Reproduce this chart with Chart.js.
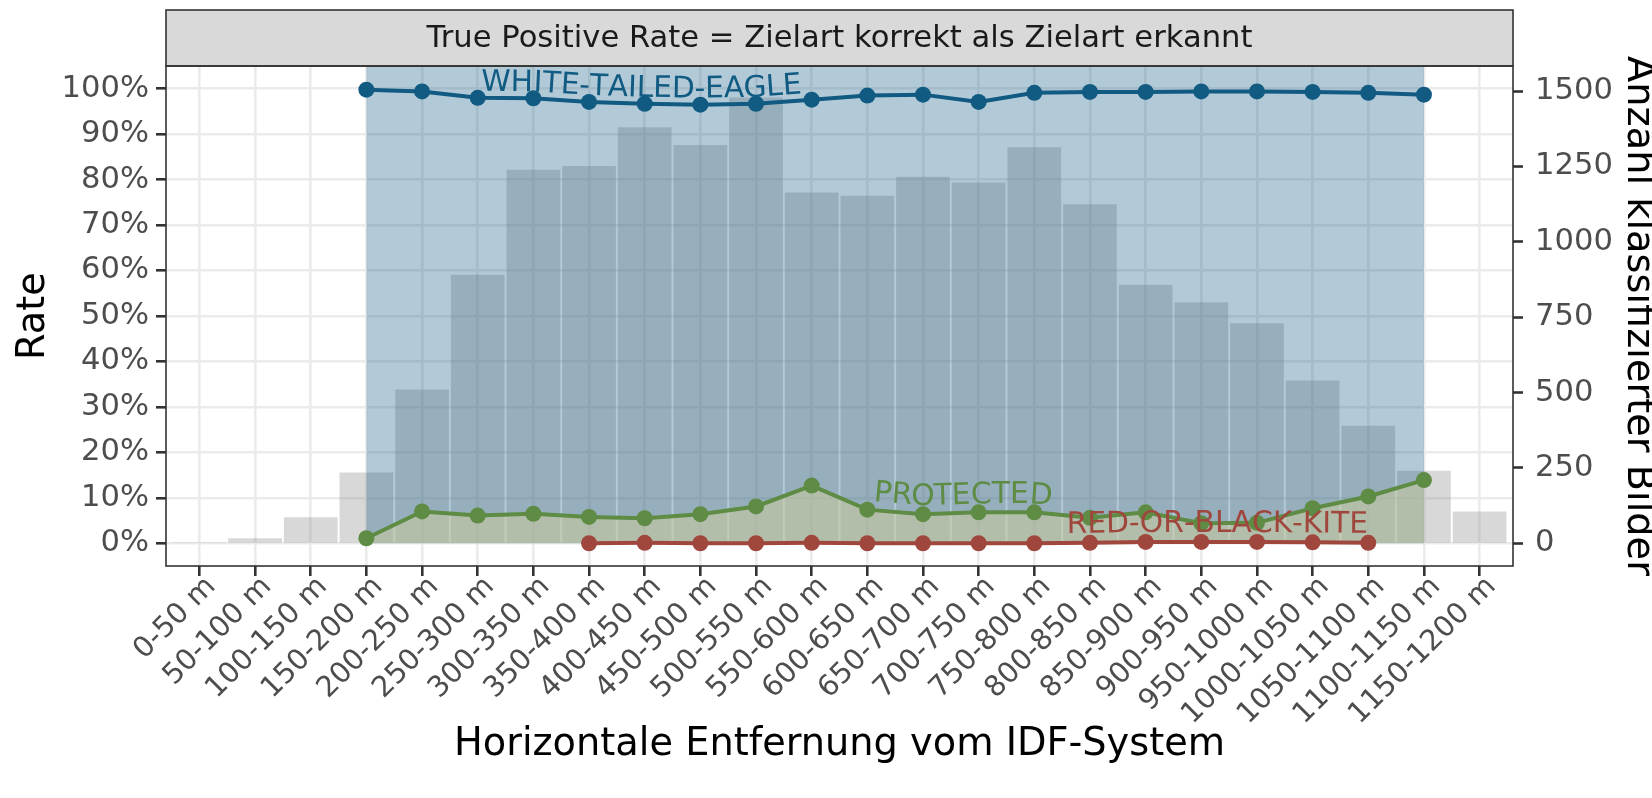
<!DOCTYPE html>
<html>
<head>
<meta charset="utf-8">
<script src="https://cdn.jsdelivr.net/npm/chart.js@4.4.1/dist/chart.umd.min.js"></script>
<style>
  html, body { margin: 0; padding: 0; background: #ffffff; }
  #wrap { width: 1652px; height: 798px; }
</style>
</head>
<body>
<div id="wrap"><canvas id="tprChart" width="1652" height="798"></canvas></div>
<script>
// distance bins on the x axis
var distanceBins = [
    '0-50 m', '50-100 m', '100-150 m', '150-200 m', '200-250 m', '250-300 m',
    '300-350 m', '350-400 m', '400-450 m', '450-500 m', '500-550 m', '550-600 m',
    '600-650 m', '650-700 m', '700-750 m', '750-800 m', '800-850 m', '850-900 m',
    '900-950 m', '950-1000 m', '1000-1050 m', '1050-1100 m', '1100-1150 m', '1150-1200 m'
];

// number of classified images per bin (right axis)
var imageCounts = [3, 17, 86, 235, 510, 891, 1239, 1252, 1380, 1321, 1479, 1164,
                   1153, 1216, 1197, 1314, 1125, 858, 800, 730, 540, 390, 241, 105];

// true positive rates in percent (null = no data in that bin)
var eagleRate = [null, null, null, 99.8, 99.4, 98.0, 97.9, 97.1, 96.7, 96.5, 96.7, 97.6,
                 98.5, 98.7, 97.1, 99.1, 99.3, 99.3, 99.4, 99.4, 99.3, 99.1, 98.7, null];
var protectedRate = [null, null, null, 1.1, 7.0, 6.1, 6.5, 5.8, 5.5, 6.4, 8.1, 12.7,
                     7.4, 6.4, 6.8, 6.8, 5.6, 6.8, 4.4, 4.5, 7.7, 10.3, 13.9, null];
var kiteRate = [null, null, null, null, null, null, null, 0.0, 0.1, 0.0, 0.0, 0.1,
                0.0, 0.0, 0.0, 0.0, 0.1, 0.3, 0.3, 0.3, 0.2, 0.1, null, null];

// axis ticks
var rateTicks = [0, 5, 10, 15, 20, 25, 30, 35, 40, 45, 50, 55, 60, 65, 70, 75, 80, 85, 90, 95, 100];
var countTicks = [0, 250, 500, 750, 1000, 1250, 1500];
var rateMin = -5, rateMax = 105;
var countsPerPercent = 15.08; // secondary axis: 100 % <-> 1508 images

var eagleColor = '#115a82';
var protectedColor = '#5e8c45';
var kiteColor = '#a0473d';

var lineLabels = [
    { dataset: 4, text: 'WHITE-TAILED-EAGLE', at: 7.9, lift: 7, color: eagleColor },
    { dataset: 2, text: 'PROTECTED', at: 13.7, lift: 9, color: protectedColor },
    { dataset: 3, text: 'RED-OR-BLACK-KITE', at: 18.25, lift: 10, color: kiteColor }
];

var FONT = '"DejaVu Sans", "Liberation Sans", sans-serif';
var TICK_SIZE = 30.6;
var XTICK_SIZE = 28.8;
var TITLE_SIZE = 38.3;

function toPoints(values) {
    return values.map((v, i) => ({ x: i, y: v })).filter(p => p.y !== null);
}

// range where the eagle was evaluated -> shaded background
var eagleIdx = eagleRate.map((v, i) => v === null ? null : i).filter(v => v !== null);
var eagleSpan = [
    { x: eagleIdx[0], y: rateMax },
    { x: eagleIdx[eagleIdx.length - 1], y: rateMax }
];

function yOnPath(pts, x) {
    if (x <= pts[0].x) return pts[0].y;
    for (let i = 1; i < pts.length; i++) {
        if (x <= pts[i].x) {
            const t = (x - pts[i - 1].x) / (pts[i].x - pts[i - 1].x);
            return pts[i - 1].y + t * (pts[i].y - pts[i - 1].y);
        }
    }
    return pts[pts.length - 1].y;
}

// text that follows its line, like geomtextpath
const pathLabels = {
    id: 'pathLabels',
    afterDatasetsDraw(chart) {
        const ctx = chart.ctx;
        lineLabels.forEach(lab => {
            const pts = chart.getDatasetMeta(lab.dataset).data.map(p => ({ x: p.x, y: p.y }));
            ctx.save();
            ctx.font = '29.7px ' + FONT;
            ctx.fillStyle = lab.color;
            ctx.textAlign = 'center';
            ctx.textBaseline = 'alphabetic';
            const total = ctx.measureText(lab.text).width;
            let cur = chart.scales.x.getPixelForValue(lab.at) - total / 2;
            for (const ch of lab.text) {
                const w = ctx.measureText(ch).width;
                const cx = cur + w / 2;
                const y = yOnPath(pts, cx);
                const a = Math.atan2(yOnPath(pts, cx + 15) - yOnPath(pts, cx - 15), 30);
                ctx.save();
                ctx.translate(cx, y);
                ctx.rotate(a);
                ctx.fillText(ch, 0, -lab.lift);
                ctx.restore();
                cur += w;
            }
            ctx.restore();
        });
    }
};

// facet strip on top + panel border
const panelFrame = {
    id: 'panelFrame',
    afterDraw(chart) {
        const ctx = chart.ctx;
        const a = chart.chartArea;
        ctx.save();
        ctx.fillStyle = '#d9d9d9';
        ctx.fillRect(a.left, 10, a.right - a.left, a.top - 10);
        ctx.strokeStyle = '#333333';
        ctx.lineWidth = 1.6;
        ctx.strokeRect(a.left, 10, a.right - a.left, a.top - 10);
        ctx.strokeRect(a.left, a.top, a.right - a.left, a.bottom - a.top);
        ctx.fillStyle = '#1a1a1a';
        ctx.font = TICK_SIZE + 'px ' + FONT;
        ctx.textAlign = 'center';
        ctx.textBaseline = 'middle';
        ctx.fillText('True Positive Rate = Zielart korrekt als Zielart erkannt', (a.left + a.right) / 2, (10 + a.top) / 2 + 1);
        ctx.restore();
    }
};

var ctx = document.getElementById('tprChart').getContext('2d');
new Chart(ctx, {
    type: 'bar',
    data: {
        datasets: [
            {
                type: 'bar',
                label: 'Anzahl klassifizierter Bilder',
                data: imageCounts.map((v, i) => ({ x: i, y: v })),
                yAxisID: 'y2',
                backgroundColor: 'rgba(127, 127, 127, 0.3)',
                borderWidth: 0,
                categoryPercentage: 1,
                barPercentage: 0.965,
                order: 6
            },
            {
                type: 'line',
                label: 'eagle range',
                data: eagleSpan,
                yAxisID: 'y',
                borderWidth: 0,
                pointRadius: 0,
                fill: 'origin',
                backgroundColor: 'rgba(17, 90, 130, 0.32)',
                order: 5
            },
            {
                type: 'line',
                label: 'PROTECTED',
                data: toPoints(protectedRate),
                yAxisID: 'y',
                borderColor: protectedColor,
                borderWidth: 4,
                pointRadius: 8,
                pointBackgroundColor: protectedColor,
                pointBorderWidth: 0,
                fill: 'origin',
                backgroundColor: 'rgba(208, 206, 154, 0.5)',
                order: 4
            },
            {
                type: 'line',
                label: 'RED-OR-BLACK-KITE',
                data: toPoints(kiteRate),
                yAxisID: 'y',
                borderColor: kiteColor,
                borderWidth: 4,
                pointRadius: 8,
                pointBackgroundColor: kiteColor,
                pointBorderWidth: 0,
                fill: false,
                order: 3
            },
            {
                type: 'line',
                label: 'WHITE-TAILED-EAGLE',
                data: toPoints(eagleRate),
                yAxisID: 'y',
                borderColor: eagleColor,
                borderWidth: 4,
                pointRadius: 8,
                pointBackgroundColor: eagleColor,
                pointBorderWidth: 0,
                fill: false,
                order: 2
            }
        ]
    },
    options: {
        responsive: false,
        animation: false,
        devicePixelRatio: 1,
        layout: { padding: { top: 66, left: 0, right: 0, bottom: 0 } },
        scales: {
            x: {
                type: 'linear',
                min: -0.6,
                max: distanceBins.length - 0.4,
                offset: false,
                afterBuildTicks: scale => { scale.ticks = distanceBins.map((_, i) => ({ value: i })); },
                afterFit: scale => { scale.height = 232; },
                border: { display: false },
                grid: {
                    offset: false,
                    color: '#ebebeb',
                    lineWidth: 2.6,
                    tickColor: '#333333',
                    tickLength: 10,
                    tickWidth: 2.6
                },
                ticks: {
                    autoSkip: false,
                    maxRotation: 45,
                    minRotation: 45,
                    padding: -6,
                    labelOffset: 12,
                    color: '#4d4d4d',
                    font: { family: FONT, size: XTICK_SIZE },
                    callback: v => distanceBins[v]
                },
                title: {
                    display: true,
                    text: 'Horizontale Entfernung vom IDF-System',
                    color: '#000000',
                    font: { family: FONT, size: TITLE_SIZE },
                    padding: { top: 0, bottom: 30 }
                }
            },
            y: {
                type: 'linear',
                position: 'left',
                min: rateMin,
                max: rateMax,
                afterBuildTicks: scale => { scale.ticks = rateTicks.map(v => ({ value: v })); },
                afterFit: scale => { scale.width = 166; },
                border: { display: false },
                grid: {
                    color: '#ebebeb',
                    lineWidth: c => c.tick.value % 10 === 0 ? 2.6 : 1.3,
                    tickColor: c => c.tick.value % 10 === 0 ? '#333333' : 'rgba(0,0,0,0)',
                    tickLength: 10,
                    tickWidth: 2.6
                },
                ticks: {
                    padding: 7,
                    color: '#4d4d4d',
                    font: { family: FONT, size: TICK_SIZE },
                    callback: v => v % 10 === 0 ? v + '%' : ''
                },
                title: {
                    display: true,
                    text: 'Rate',
                    color: '#000000',
                    font: { family: FONT, size: TITLE_SIZE },
                    padding: { top: 11, bottom: 0 }
                }
            },
            y2: {
                type: 'linear',
                position: 'right',
                min: rateMin * countsPerPercent,
                max: rateMax * countsPerPercent,
                afterBuildTicks: scale => { scale.ticks = countTicks.map(v => ({ value: v })); },
                afterFit: scale => { scale.width = 139; },
                border: { display: false },
                grid: {
                    drawOnChartArea: false,
                    tickColor: '#333333',
                    tickLength: 10,
                    tickWidth: 2.6
                },
                ticks: {
                    padding: 12,
                    color: '#4d4d4d',
                    font: { family: FONT, size: TICK_SIZE },
                    callback: v => String(v)
                },
                title: {
                    display: true,
                    text: 'Anzahl klassifizierter Bilder',
                    color: '#000000',
                    font: { family: FONT, size: TITLE_SIZE, lineHeight: 0.6 },
                    padding: { top: 3, bottom: 0 }
                }
            }
        },
        plugins: {
            legend: { display: false },
            tooltip: { enabled: false }
        }
    },
    plugins: [pathLabels, panelFrame]
});
</script>
</body>
</html>
